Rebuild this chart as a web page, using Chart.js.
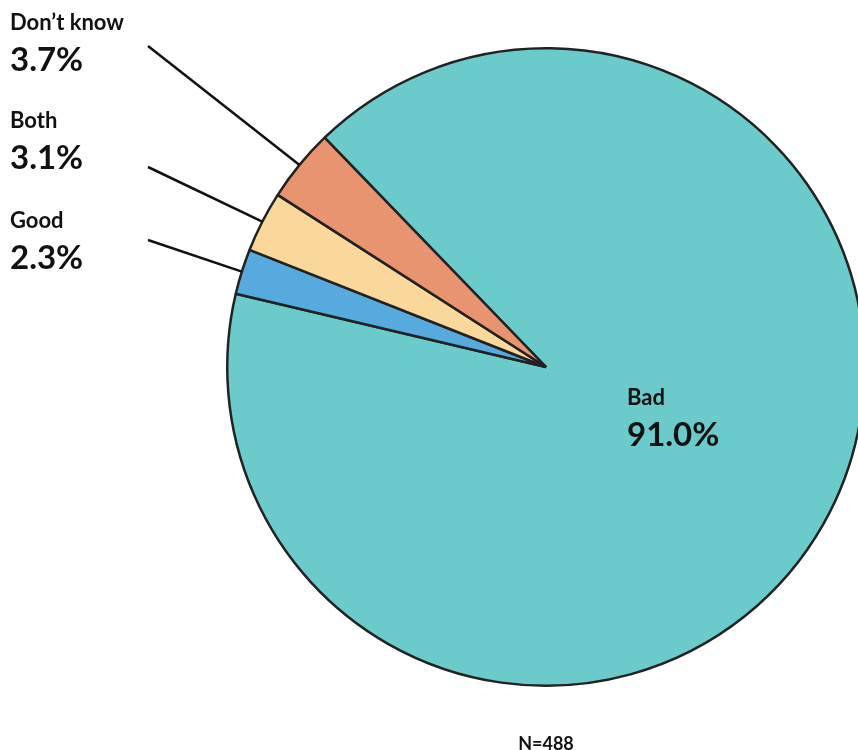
<!DOCTYPE html>
<html>
<head>
<meta charset="utf-8">
<script src="https://cdn.jsdelivr.net/npm/chart.js@4.4.1/dist/chart.umd.min.js"></script>
<style>
  html, body { margin: 0; padding: 0; background: #fff; overflow: hidden; }
  .wrap { position: relative; width: 900px; height: 750px; }
</style>
</head>
<body>
<div class="wrap"><canvas id="pie"></canvas></div>
<script>
// données
const categories = ["Bad", "Good", "Both", "Don\u2019t know"];
const percents = [91.0, 2.3, 3.1, 3.7];
const percentLabels = ["91.0%", "2.3%", "3.1%", "3.7%"];
const sliceColors = ["#6BCACA", "#56AADD", "#FAD79A", "#E89470"];
const sampleLabel = "N=488";

const FONT = "Lato, 'Open Sans', sans-serif";

// position des étiquettes (x, y du nom)
const labelSpots = [
  { x: 627, y: 398, inside: true },
  { x: 10, y: 221, lineX: 148, lineY: 240 },
  { x: 10, y: 121, lineX: 148, lineY: 167 },
  { x: 10, y: 23, lineX: 148, lineY: 46 }
];

const labelsPlugin = {
  id: 'pieLabels',
  afterDraw(chart) {
    const ctx = chart.ctx;
    const arcs = chart.getDatasetMeta(0).data;
    ctx.save();
    arcs.forEach((arc, i) => {
      const spot = labelSpots[i];
      if (!spot.inside) {
        const mid = (arc.startAngle + arc.endAngle) / 2;
        const ex = arc.x + Math.cos(mid) * arc.outerRadius;
        const ey = arc.y + Math.sin(mid) * arc.outerRadius;
        ctx.beginPath();
        ctx.moveTo(spot.lineX, spot.lineY);
        ctx.lineTo(ex, ey);
        ctx.lineWidth = 2.5;
        ctx.strokeStyle = "#111";
        ctx.stroke();
      }
      ctx.fillStyle = "#111";
      ctx.textAlign = "left";
      ctx.textBaseline = "middle";
      ctx.font = "bold 22px " + FONT;
      ctx.fillText(categories[i], spot.x, spot.y);
      ctx.font = "bold 33px " + FONT;
      ctx.fillText(percentLabels[i], spot.x, spot.y + 37);
    });
    ctx.font = "bold 18px " + FONT;
    ctx.textAlign = "center";
    ctx.fillText(sampleLabel, 546, 744);
    ctx.restore();
  }
};

new Chart(document.getElementById('pie'), {
  type: 'pie',
  data: {
    labels: categories,
    datasets: [{
      data: percents,
      backgroundColor: sliceColors,
      borderColor: "#222",
      borderWidth: 2.5
    }]
  },
  options: {
    responsive: true,
    maintainAspectRatio: false,
    animation: false,
    rotation: -44,
    layout: { padding: { left: 226, right: 34, top: 46, bottom: 62 } },
    plugins: {
      legend: { display: false },
      tooltip: { enabled: false }
    }
  },
  plugins: [labelsPlugin]
});
</script>
</body>
</html>
